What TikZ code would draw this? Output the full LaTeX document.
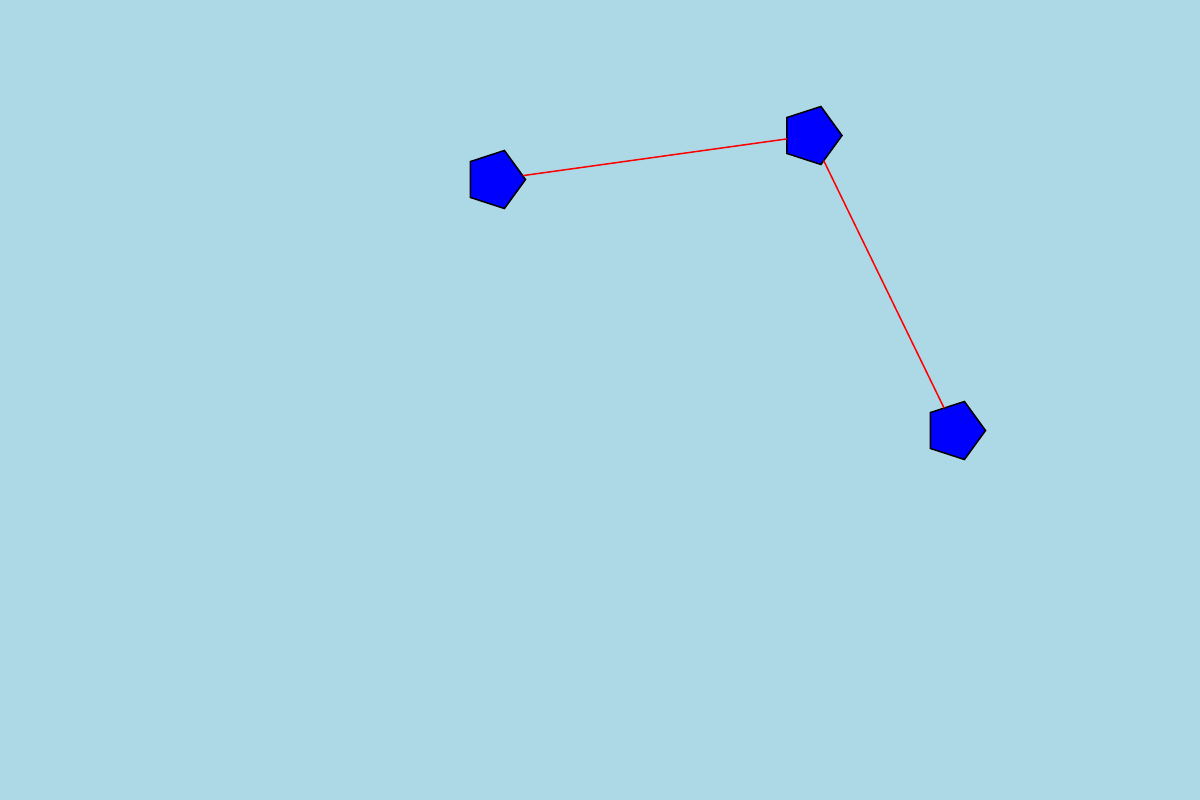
\documentclass[tikz,border=0pt]{standalone}
\usetikzlibrary{shapes.geometric}
\definecolor{bgblue}{RGB}{173,216,230}
\tikzset{
  penta/.style={regular polygon, regular polygon sides=5, shape border rotate=-90,
    minimum size=61pt, inner sep=0pt, outer sep=0pt, draw=black, line width=1.5pt, fill=blue},
  link/.style={draw=red, line width=1.5pt}
}
\begin{document}
\begin{tikzpicture}[x=1pt,y=-1pt]
\fill[bgblue] (0,0) rectangle (1200,800);
\useasboundingbox (0,0) rectangle (1200,800);
\node[penta] (a) at (495,179.5) {};
\node[penta] (b) at (811.5,135.5) {};
\node[penta] (c) at (955,430.5) {};
\draw[link] (a) -- (b);
\draw[link] (b) -- (c);
\end{tikzpicture}
\end{document}
